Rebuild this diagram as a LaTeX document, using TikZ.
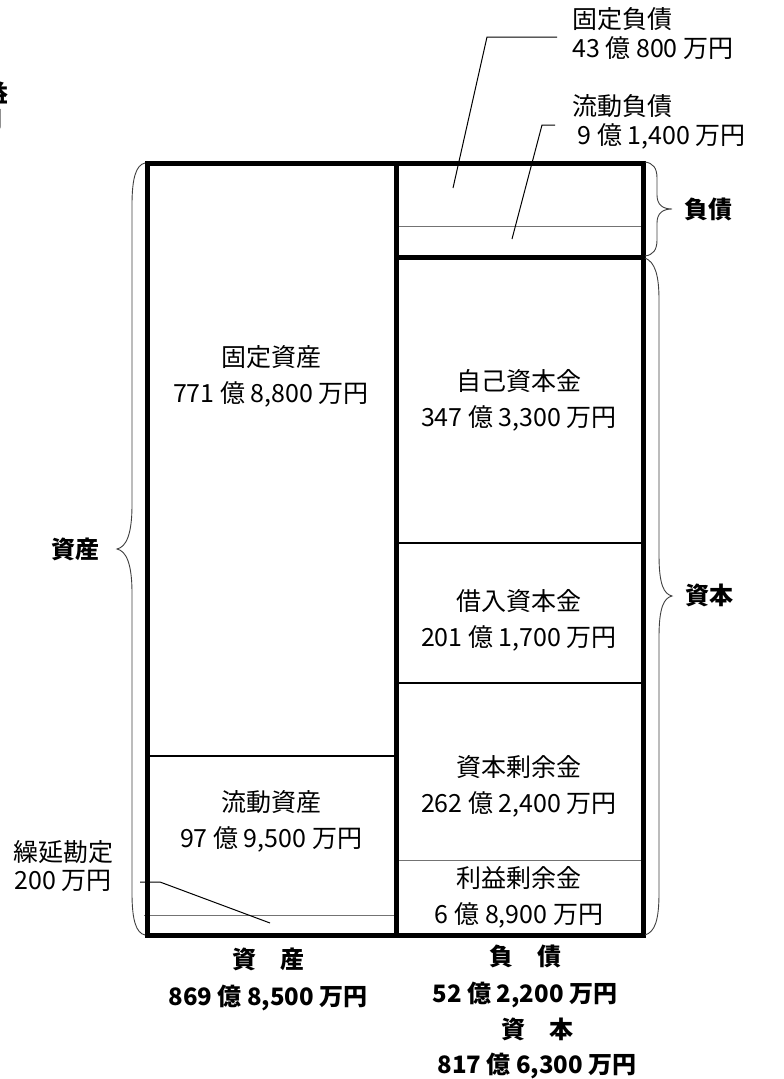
\documentclass[tikz,border=0pt]{standalone}
\usepackage{fontspec}
\setmainfont{Noto Sans CJK JP}
\begin{document}
\begin{tikzpicture}[x=1pt,y=-1pt,
  thickbox/.style={line width=5pt},
  midline/.style={line width=2pt},
  thinline/.style={line width=0.9pt, black!55},
  braceline/.style={line width=0.9pt, black!75},
  lead/.style={line width=1pt},
  cell/.style={font=\fontsize{25}{36}\selectfont, align=center, inner sep=0pt},
  outlabel/.style={font=\fontsize{25}{29}\selectfont, align=left, inner sep=0pt, anchor=west},
  boldlabel/.style={font=\bfseries\fontsize{24}{37}\selectfont, align=center, inner sep=0pt}]
\useasboundingbox (0,0) rectangle (784,1079);
% cut-off fragment at the top-left
\node[boldlabel] (frag1) at (-4,93) {益};
\node[boldlabel] (frag2) at (-9,120) {円};
% inner thin and medium lines
\draw[thinline] (396,226) -- (643,226);
\draw[thinline] (396,860) -- (643,860);
\draw[thinline] (144,915) -- (396,915);
\draw[midline] (147,756) -- (396,756);
\draw[midline] (396,543) -- (643,543);
\draw[midline] (396,683) -- (643,683);
% thick frame
\draw[thickbox] (147,163) rectangle (643,935);
\draw[thickbox] (396,163) -- (396,935);
\draw[thickbox] (396,257) -- (643,257);
% cell texts
\node[cell] (koteishisan) at (271,376) {固定資産\\771 億 8,800 万円};
\node[cell] (ryudoshisan) at (271,821) {流動資産\\97 億 9,500 万円};
\node[cell] (jiko) at (519,400) {自己資本金\\347 億 3,300 万円};
\node[cell] (kariire) at (519,620) {借入資本金\\201 億 1,700 万円};
\node[cell] (shihonjoyo) at (519,786) {資本剰余金\\262 億 2,400 万円};
\node[cell] (riekijoyo) at (519,897) {利益剰余金\\6 億 8,900 万円};
% outside labels with leaders
\node[outlabel] (koteifusai) at (572,34) {固定負債\\43 億 800 万円};
\node[outlabel] (ryudofusai) at (572,122) {流動負債\\\ 9 億 1,400 万円};
\node[cell, font=\fontsize{25}{28}\selectfont] (kurinobe) at (63,866) {繰延勘定\\200 万円};
\coordinate (kfa) at (453,188);
\coordinate (kfb) at (487,37);
\coordinate (kfc) at (557,37);
\coordinate (rfa) at (512,239);
\coordinate (rfb) at (542,125);
\coordinate (rfc) at (555,125);
\coordinate (kra) at (140,882);
\coordinate (krb) at (160,882);
\coordinate (krc) at (270,923);
\draw[lead] (kfa) -- (kfb) -- (kfc);
\draw[lead] (rfa) -- (rfb) -- (rfc);
\draw[lead] (kra) -- (krb) -- (krc);
% braces
\draw[braceline] (145,163) .. controls (136,165) and (132,178) .. (132,205) -- (132,505)
  .. controls (132,535) and (126,547) .. (117,549)
  .. controls (126,551) and (132,563) .. (132,593) -- (132,893)
  .. controls (132,920) and (136,933) .. (145,935);
\draw[braceline] (645,162) .. controls (653,163) and (657,168) .. (657,178) -- (657,195)
  .. controls (657,205) and (663,209) .. (672,209)
  .. controls (663,209) and (657,213) .. (657,223) -- (657,240)
  .. controls (657,250) and (653,255) .. (645,256);
\draw[braceline] (645,258) .. controls (655,262) and (659,275) .. (659,300) -- (659,555)
  .. controls (659,585) and (664,594) .. (672,596)
  .. controls (664,598) and (659,607) .. (659,637) -- (659,893)
  .. controls (659,920) and (655,932) .. (645,935);
\node[boldlabel] (shisanlbl) at (75,549) {資産};
\node[boldlabel] (fusailbl) at (708,209) {負債};
\node[boldlabel] (shihonlbl) at (709,595) {資本};
% bottom totals
\node[boldlabel] (shisantot) at (268,979) {資　産\\869 億 8,500 万円};
\node[boldlabel] (fusaitot) at (525,976) {負　債\\52 億 2,200 万円};
\node[boldlabel, font=\bfseries\fontsize{24}{35}\selectfont] (shihontot) at (537,1048) {資　本\\817 億 6,300 万円};
\end{tikzpicture}
\end{document}
